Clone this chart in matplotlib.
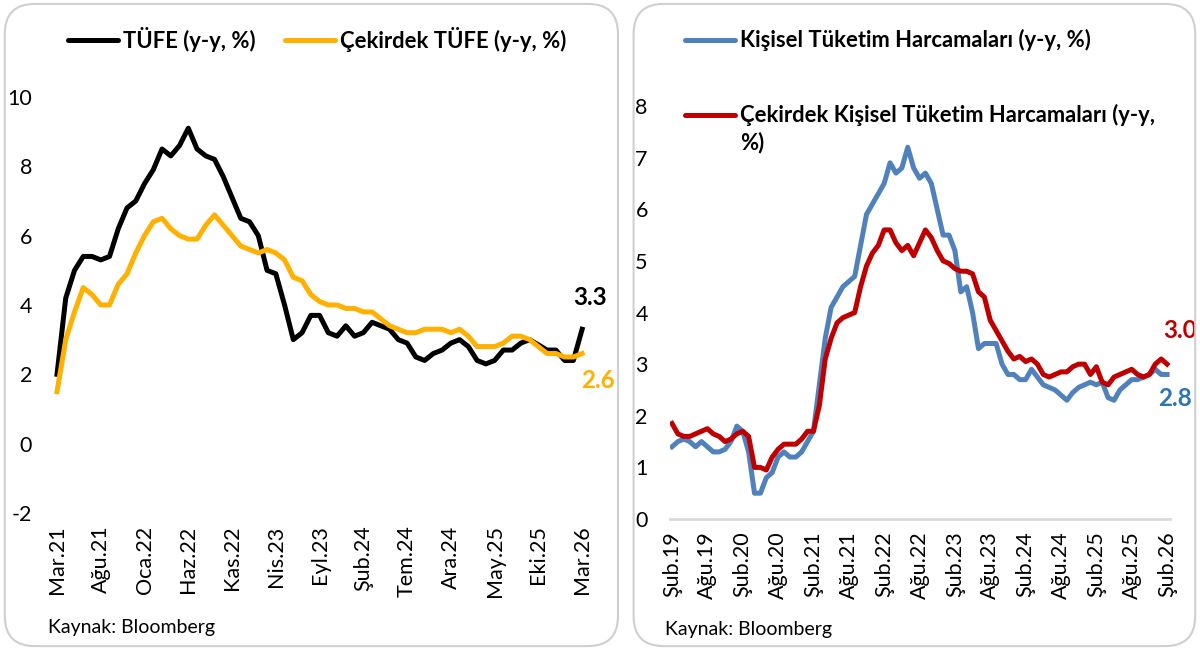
import matplotlib
matplotlib.use("Agg")
import matplotlib.pyplot as plt
from matplotlib.patches import FancyBboxPatch
from matplotlib.lines import Line2D

plt.rcParams['font.family'] = ['Lato', 'DejaVu Sans']
plt.rcParams['axes.unicode_minus'] = False

# ABD TÜFE, aylık (Mar.21 - Mar.26)
tufe = [2.0, 4.2, 5.0, 5.4, 5.4, 5.3, 5.4, 6.2, 6.8, 7.0,
        7.5, 7.9, 8.5, 8.3, 8.6, 9.1, 8.5, 8.3, 8.2, 7.7,
        7.1, 6.5, 6.4, 6.0, 5.0, 4.9, 4.0, 3.0, 3.2, 3.7,
        3.7, 3.2, 3.1, 3.4, 3.1, 3.2, 3.5, 3.4, 3.3, 3.0,
        2.9, 2.5, 2.4, 2.6, 2.7, 2.9, 3.0, 2.8, 2.4, 2.3,
        2.4, 2.7, 2.7, 2.9, 3.0, 2.85, 2.7, 2.7, 2.4, 2.4,
        3.3]
cekirdek_tufe = [1.5, 3.0, 3.8, 4.5, 4.3, 4.0, 4.0, 4.6, 4.9, 5.5,
                 6.0, 6.4, 6.5, 6.2, 6.0, 5.9, 5.9, 6.3, 6.6, 6.3,
                 6.0, 5.7, 5.6, 5.5, 5.6, 5.5, 5.3, 4.8, 4.7, 4.3,
                 4.1, 4.0, 4.0, 3.9, 3.9, 3.8, 3.8, 3.6, 3.4, 3.3,
                 3.2, 3.2, 3.3, 3.3, 3.3, 3.2, 3.3, 3.1, 2.8, 2.8,
                 2.8, 2.9, 3.1, 3.1, 3.0, 2.8, 2.6, 2.6, 2.5, 2.5,
                 2.6]
tufe_ticks = ["Mar.21", "Ağu.21", "Oca.22", "Haz.22", "Kas.22", "Nis.23", "Eyl.23",
              "Şub.24", "Tem.24", "Ara.24", "May.25", "Eki.25", "Mar.26"]

# PCE, aylık (Şub.19 - Şub.26)
pce = [1.4, 1.5, 1.55, 1.5, 1.4, 1.5, 1.4, 1.3, 1.3, 1.35,
       1.5, 1.8, 1.7, 1.3, 0.5, 0.5, 0.8, 0.9, 1.2, 1.3,
       1.2, 1.2, 1.3, 1.5, 1.7, 2.6, 3.5, 4.1, 4.3, 4.5,
       4.6, 4.7, 5.3, 5.9, 6.1, 6.3, 6.5, 6.9, 6.7, 6.8,
       7.2, 6.8, 6.6, 6.7, 6.5, 6.0, 5.5, 5.5, 5.2, 4.4,
       4.5, 4.0, 3.3, 3.4, 3.4, 3.4, 3.0, 2.8, 2.8, 2.7,
       2.7, 2.9, 2.75, 2.6, 2.55, 2.5, 2.4, 2.3, 2.45, 2.55,
       2.6, 2.65, 2.6, 2.65, 2.35, 2.3, 2.5, 2.6, 2.7, 2.7,
       2.75, 2.8, 2.9, 2.8, 2.8]
cekirdek_pce = [1.85, 1.65, 1.6, 1.6, 1.65, 1.7, 1.75, 1.65, 1.6, 1.5,
                1.55, 1.65, 1.7, 1.6, 1.0, 1.0, 0.95, 1.2, 1.35, 1.45,
                1.45, 1.45, 1.55, 1.7, 1.7, 2.2, 3.1, 3.5, 3.8, 3.9,
                3.95, 4.0, 4.5, 4.9, 5.15, 5.3, 5.6, 5.6, 5.35, 5.2,
                5.3, 5.1, 5.35, 5.6, 5.45, 5.2, 5.0, 4.95, 4.85, 4.8,
                4.8, 4.75, 4.4, 4.3, 3.85, 3.65, 3.45, 3.25, 3.1, 3.15,
                3.05, 3.1, 3.0, 2.8, 2.75, 2.8, 2.85, 2.85, 2.95, 3.0,
                3.0, 2.8, 2.95, 2.65, 2.6, 2.75, 2.8, 2.85, 2.9, 2.8,
                2.75, 2.8, 3.0, 3.1, 3.0]
pce_ticks = ["Şub.19", "Ağu.19", "Şub.20", "Ağu.20", "Şub.21", "Ağu.21", "Şub.22", "Ağu.22",
             "Şub.23", "Ağu.23", "Şub.24", "Ağu.24", "Şub.25", "Ağu.25", "Şub.26"]

ORANGE = "#FFB000"
BLUE = "#4F81BD"
RED = "#C00000"
LABEL_BLUE = "#2E75B6"

TICK_SIZE = 15.5
LEG_SIZE = 15.8
VAL_SIZE = 17.5

fig = plt.figure(figsize=(12, 6.5), dpi=100)

# panel çerçeveleri
for x0, w in [(0.004, 0.511), (0.528, 0.468)]:
    fig.patches.append(FancyBboxPatch((x0, 0.006), w, 0.988, boxstyle="round,pad=0,rounding_size=0.025",
                                      transform=fig.transFigure, facecolor="none", edgecolor="#cfcfcf",
                                      linewidth=1.5, mutation_aspect=1.85))

# ---- sol panel: TÜFE
ax1 = fig.add_axes([50 / 1200, 0.2108, 540 / 1200, 0.64])
ax1.patch.set_alpha(0)
x1 = list(range(len(tufe)))
ax1.plot(x1, tufe, color="black", lw=3.6, solid_joinstyle="round")
ax1.plot(x1, cekirdek_tufe, color=ORANGE, lw=3.6, solid_joinstyle="round")
ax1.set_xlim(-0.8, 60.9)
ax1.set_ylim(-2, 10)
ax1.set_yticks(range(-2, 11, 2))
ax1.set_xticks(range(0, len(tufe), 5))
ax1.set_xticklabels(tufe_ticks, rotation=90)
ax1.tick_params(length=0, labelsize=TICK_SIZE)
ax1.tick_params(axis="y", pad=13)
ax1.tick_params(axis="x", pad=9)
for s in ax1.spines.values():
    s.set_visible(False)
ax1.annotate(f"{tufe[-1]:.1f}", (x1[-1], tufe[-1]), xytext=(6, 23), textcoords="offset points",
             ha="center", va="center", fontsize=VAL_SIZE, fontweight="bold", color="black")
ax1.annotate(f"{cekirdek_tufe[-1]:.1f}", (x1[-1], cekirdek_tufe[-1]), xytext=(11.5, -19.5),
             textcoords="offset points", ha="center", va="center", fontsize=VAL_SIZE, fontweight="bold",
             color=ORANGE)

# ---- sağ panel: PCE
ax2 = fig.add_axes([670 / 1200, 0.2015, 500 / 1200, 0.6354])
ax2.patch.set_alpha(0)
x2 = list(range(len(pce)))
ax2.plot(x2, pce, color=BLUE, lw=3.6, solid_joinstyle="round")
ax2.plot(x2, cekirdek_pce, color=RED, lw=3.6, solid_joinstyle="round")
ax2.set_xlim(-0.34, 84.5)
ax2.set_ylim(0, 8)
ax2.set_yticks(range(0, 9))
ax2.set_xticks(range(0, len(pce), 6))
ax2.set_xticklabels(pce_ticks, rotation=90)
ax2.tick_params(length=0, labelsize=TICK_SIZE)
ax2.tick_params(axis="y", pad=16)
ax2.tick_params(axis="x", pad=9)
for k, s in ax2.spines.items():
    s.set_visible(k == "bottom")
ax2.spines["bottom"].set_color("#d9d9d9")
ax2.spines["bottom"].set_linewidth(2)
ax2.annotate(f"{cekirdek_pce[-1]:.1f}", (x2[-1], cekirdek_pce[-1]), xytext=(9.4, 24.5), textcoords="offset points",
             ha="center", va="center", fontsize=VAL_SIZE, fontweight="bold", color=RED)
ax2.annotate(f"{pce[-1]:.1f}", (x2[-1], pce[-1]), xytext=(6, -17), textcoords="offset points",
             ha="center", va="center", fontsize=VAL_SIZE, fontweight="bold", color=LABEL_BLUE)

# lejantlar
def legend_item(x_px, y_px, color, text):
    y = 1 - y_px / 650
    fig.lines.append(Line2D([x_px / 1200, (x_px + 50) / 1200], [y, y], transform=fig.transFigure,
                            color=color, lw=3.6, solid_capstyle="round"))
    fig.text((x_px + 55) / 1200, y, text, ha="left", va="center", fontsize=LEG_SIZE, fontweight="bold")

legend_item(68, 40, "black", "TÜFE (y-y, %)")
legend_item(285, 40, ORANGE, "Çekirdek TÜFE (y-y, %)")
legend_item(685, 40, BLUE, "Kişisel Tüketim Harcamaları (y-y, %)")
legend_item(685, 115, RED, "Çekirdek Kişisel Tüketim Harcamaları (y-y,")
fig.text(740 / 1200, 1 - 143 / 650, "%)", ha="left", va="center", fontsize=LEG_SIZE, fontweight="bold")

fig.text(48 / 1200, 1 - 628 / 650, "Kaynak: Bloomberg", ha="left", va="center", fontsize=14)
fig.text(665 / 1200, 1 - 630 / 650, "Kaynak: Bloomberg", ha="left", va="center", fontsize=14)

fig.savefig("out.png", dpi=100)
